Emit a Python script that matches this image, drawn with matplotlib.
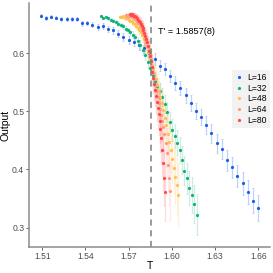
import matplotlib
matplotlib.use("Agg")
import matplotlib.pyplot as plt
import numpy as np

plt.rcParams['font.family'] = ['Liberation Sans', 'DejaVu Sans']

# output values for each lattice size
out16 = [0.6647, 0.6608, 0.6630, 0.6613, 0.6590, 0.6590, 0.6590, 0.6590, 0.6516, 0.6522,
         0.6492, 0.6458, 0.6465, 0.6413, 0.6396, 0.6337, 0.6286, 0.6234, 0.6200, 0.6143,
         0.6096, 0.6005, 0.5902, 0.5787, 0.5730, 0.5609, 0.5489, 0.5408, 0.5274, 0.5145,
         0.5007, 0.4898, 0.4766, 0.4623, 0.4451, 0.4348, 0.4158, 0.4038, 0.3888, 0.3762,
         0.3608, 0.3463, 0.3337]
err16 = [0.003, 0.003, 0.003, 0.003, 0.003, 0.003, 0.003, 0.004, 0.004, 0.004,
         0.004, 0.005, 0.005, 0.005, 0.006, 0.006, 0.007, 0.007, 0.008, 0.008,
         0.009, 0.009, 0.010, 0.010, 0.011, 0.011, 0.012, 0.012, 0.013, 0.013,
         0.014, 0.014, 0.015, 0.016, 0.016, 0.017, 0.018, 0.018, 0.019, 0.020,
         0.021, 0.021, 0.022]

out32 = [0.6647, 0.6612, 0.6619, 0.6602, 0.6581, 0.6564, 0.6544, 0.6512, 0.6487, 0.6461,
         0.6426, 0.6392, 0.6358, 0.6323, 0.6272, 0.6211, 0.6142, 0.6056, 0.5970, 0.5850,
         0.5747, 0.5626, 0.5523, 0.5437, 0.5351, 0.5247, 0.5127, 0.4989, 0.4817, 0.4679,
         0.4576, 0.4464, 0.4335, 0.4163, 0.3979, 0.3848, 0.3676, 0.3555, 0.3406, 0.3225]
err32 = [0.002, 0.002, 0.002, 0.003, 0.003, 0.003, 0.003, 0.004, 0.004, 0.004,
         0.005, 0.005, 0.005, 0.006, 0.006, 0.007, 0.008, 0.008, 0.009, 0.010,
         0.011, 0.012, 0.013, 0.013, 0.014, 0.015, 0.016, 0.017, 0.018, 0.019,
         0.020, 0.021, 0.022, 0.024, 0.025, 0.027, 0.029, 0.031, 0.033, 0.036]

out48 = [0.6630, 0.6616, 0.6633, 0.6607, 0.6607, 0.6590, 0.6581, 0.6564, 0.6547, 0.6521,
         0.6504, 0.6470, 0.6435, 0.6401, 0.6358, 0.6306, 0.6246, 0.6177, 0.6108, 0.6022,
         0.5936, 0.5850, 0.5747, 0.5661, 0.5557, 0.5454, 0.5351, 0.5247, 0.5144, 0.5024,
         0.4886, 0.4766, 0.4611, 0.4473, 0.4335, 0.4180, 0.4025, 0.3871, 0.3733, 0.3561]
err48 = [0.003, 0.003, 0.003, 0.004, 0.004, 0.004, 0.005, 0.005, 0.006, 0.006,
         0.007, 0.007, 0.008, 0.009, 0.010, 0.011, 0.012, 0.013, 0.014, 0.015,
         0.016, 0.017, 0.018, 0.019, 0.020, 0.022, 0.023, 0.025, 0.026, 0.028,
         0.030, 0.032, 0.034, 0.036, 0.038, 0.041, 0.044, 0.047, 0.050, 0.054]

out64 = [0.6659, 0.6650, 0.6659, 0.6642, 0.6633, 0.6624, 0.6616, 0.6607, 0.6590, 0.6573,
         0.6547, 0.6521, 0.6487, 0.6452, 0.6409, 0.6366, 0.6315, 0.6254, 0.6194, 0.6125,
         0.6048, 0.5962, 0.5867, 0.5764, 0.5661, 0.5557, 0.5454, 0.5351, 0.5247, 0.5144,
         0.5041, 0.4938, 0.4834, 0.4731, 0.4611, 0.4456, 0.4284, 0.4077, 0.3853, 0.3635]
err64 = [0.003, 0.003, 0.004, 0.004, 0.004, 0.005, 0.005, 0.006, 0.006, 0.007,
         0.007, 0.008, 0.009, 0.010, 0.011, 0.012, 0.013, 0.014, 0.015, 0.016,
         0.017, 0.018, 0.019, 0.020, 0.021, 0.023, 0.024, 0.026, 0.027, 0.029,
         0.031, 0.033, 0.035, 0.037, 0.039, 0.041, 0.043, 0.045, 0.047, 0.050]

out80 = [0.6676, 0.6667, 0.6676, 0.6659, 0.6650, 0.6642, 0.6633, 0.6616, 0.6599, 0.6581,
         0.6556, 0.6530, 0.6504, 0.6470, 0.6435, 0.6392, 0.6349, 0.6297, 0.6246, 0.6186,
         0.6117, 0.6039, 0.5953, 0.5867, 0.5772, 0.5678, 0.5574, 0.5471, 0.5368, 0.5265,
         0.5161, 0.5058, 0.4955, 0.4834, 0.4697, 0.4542, 0.4335, 0.4111, 0.3853, 0.3607]
err80 = [0.003, 0.003, 0.004, 0.004, 0.005, 0.005, 0.006, 0.006, 0.007, 0.007,
         0.008, 0.009, 0.010, 0.011, 0.012, 0.013, 0.014, 0.015, 0.016, 0.017,
         0.018, 0.019, 0.020, 0.021, 0.022, 0.024, 0.025, 0.027, 0.028, 0.030,
         0.032, 0.034, 0.036, 0.038, 0.040, 0.042, 0.044, 0.046, 0.048, 0.050]

# evenly spaced temperature grids (start, end) for each size
T16 = np.linspace(1.5089, 1.6598, len(out16))
T32 = np.linspace(1.5508, 1.6172, len(out32))
T48 = np.linspace(1.5640, 1.6044, len(out48))
T64 = np.linspace(1.5681, 1.5987, len(out64))
T80 = np.linspace(1.5709, 1.5952, len(out80))

labels = ["L=16", "L=32", "L=48", "L=64", "L=80"]
colors = ["#1a5ee8", "#10b27a", "#ffc050", "#ff9a80", "#ff4848"]
err_alpha = [0.28, 0.22, 0.22, 0.18, 0.18]
T_c = 1.5857

series = [(T16, out16, err16), (T32, out32, err32), (T48, out48, err48),
          (T64, out64, err64), (T80, out80, err80)]

fig = plt.figure(figsize=(2.73, 2.73), dpi=100)
ax = fig.add_axes([29/273, 25.7/273, 241/273, 244/273])

for (t, v, e), c, a in zip(series, colors, err_alpha):
    ax.errorbar(t, v, yerr=e, fmt='none', ecolor=c, alpha=a, elinewidth=0.9,
                capsize=1.0, capthick=0.5)
for (t, v, e), lab, c in zip(series, labels, colors):
    ax.plot(t, v, 'o', color=c, markersize=2.3, markeredgewidth=0, label=lab)

ax.axvline(T_c, color='#7f7f7f', linestyle=(0, (4, 3)), linewidth=1.1)
ax.text(1.5905, 0.637, "T' = 1.5857(8)", fontsize=6.6, va='center', ha='left')

ax.set_xlim(1.5008, 1.6681)
ax.set_ylim(0.2661, 0.686)
ax.set_xticks([1.51, 1.54, 1.57, 1.60, 1.63, 1.66])
ax.set_xticklabels(["1.51", "1.54", "1.57", "1.60", "1.63", "1.66"])
ax.set_yticks([0.3, 0.4, 0.5, 0.6])
ax.set_yticklabels(["0.3", "0.4", "0.5", "0.6"])
ax.tick_params(labelsize=6.2, colors='#4d4d4d', length=2, width=0.6, pad=1.5)
for s in ['top', 'right']:
    ax.spines[s].set_visible(False)
for s in ['left', 'bottom']:
    ax.spines[s].set_color('#8c8c8c')
    ax.spines[s].set_linewidth(1.1)

ax.set_xlabel("T", fontsize=7.5, labelpad=0)
ax.set_ylabel("Output", fontsize=7.5, labelpad=1)

leg = ax.legend(loc='center right', bbox_to_anchor=(1.0, 0.608), fontsize=6.2,
                frameon=True, facecolor='#f2f2f2', edgecolor='none', framealpha=1,
                fancybox=False, handlelength=0.8, handletextpad=0.5,
                labelspacing=0.2, borderpad=0.4, borderaxespad=0)

fig.savefig("out.png", dpi=100)
